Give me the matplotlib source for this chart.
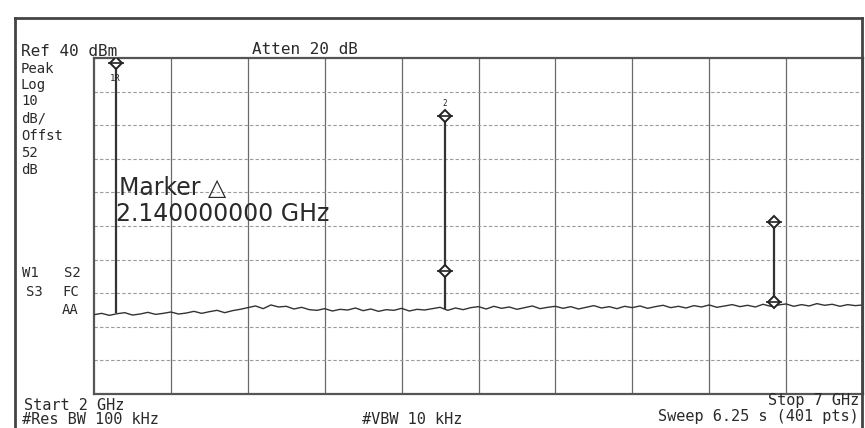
import numpy as np
import matplotlib
matplotlib.use('Agg')
import matplotlib.pyplot as plt
from matplotlib.lines import Line2D

# Sweep settings
f_start = 2.0      # GHz
f_stop = 7.0       # GHz
ref_level = 40     # dBm
db_per_div = 10

# Noise floor, one reading every 50 MHz from 2 to 7 GHz (dBm)
noise_db = [
    -36.4, -36.0, -36.6, -36.1, -35.8, -36.5, -36.2, -35.7, -36.3, -36.0,
    -35.6, -36.2, -35.9, -35.4, -36.0, -35.5, -35.1, -35.8, -35.2, -34.8,
    -34.3, -33.8, -34.6, -33.5, -34.1, -33.9, -34.7, -34.2, -34.9, -35.1,
    -34.6, -35.3, -34.8, -35.0, -34.4, -35.2, -34.7, -35.4, -34.9, -35.1,
    -34.5, -35.3, -34.8, -35.0, -34.6, -34.2, -35.1, -34.4, -34.9, -34.3,
    -34.0, -34.7, -33.9, -34.5, -34.1, -34.8, -34.3, -33.8, -34.6, -34.2,
    -33.9, -34.5, -34.0, -34.7, -34.2, -33.7, -34.4, -34.0, -34.6, -33.9,
    -34.3, -33.8, -34.5, -34.0, -33.6, -34.3, -33.9, -34.4, -33.7, -34.1,
    -33.5, -34.2, -33.8, -33.4, -34.0, -33.6, -34.1, -33.3, -33.9, -33.5,
    -33.2, -33.9, -33.4, -33.8, -33.1, -33.6, -33.3, -33.9, -33.4, -33.7,
    -33.5,
]
noise_f = np.linspace(f_start, f_stop, len(noise_db))

# Fundamental and harmonics
peak_f = [2.14, 4.28, 6.42]
peak_db = [39.0, 22.7, -8.8]
peak_base = [-36.0, -34.8, -33.6]

# Markers
marker_f = [2.14, 4.28, 4.28, 6.42, 6.42]
marker_db = [38.5, 22.7, -23.4, -8.8, -32.6]

W, H = 865, 428
fig = plt.figure(figsize=(W / 100, H / 100), dpi=100)
fig.patch.set_facecolor('white')

def px(x, y):
    return x / W, 1 - y / H

x0, y0 = 94, 58
x1, y1 = 863, 394
ax = fig.add_axes([x0 / W, 1 - y1 / H, (x1 - x0) / W, (y1 - y0) / H])
ax.set_xlim(f_start, f_stop)
ax.set_ylim(ref_level - 10 * db_per_div, ref_level)

# graticule
for f in np.linspace(f_start, f_stop, 11)[1:-1]:
    ax.axvline(f, color='#6a6a6a', lw=0.9, zorder=1)
for lv in np.arange(ref_level - 10 * db_per_div, ref_level, db_per_div)[1:]:
    ax.axhline(lv, color='#9a9a9a', lw=0.8, ls=(0, (3, 2)), zorder=1)
for s in ax.spines.values():
    s.set_color('#555555')
    s.set_linewidth(1.6)
ax.set_xticks([])
ax.set_yticks([])

# trace
ax.plot(noise_f, noise_db, color='#333333', lw=1.0, zorder=3)
ax.vlines(peak_f, peak_base, peak_db, color='#333333', lw=1.6, zorder=3)

ax.plot(marker_f, marker_db, 'D', ms=6, mfc='white', mec='#222222',
        mew=1.4, zorder=4)
ax.plot(marker_f, marker_db, '_', ms=11, mec='#222222', mew=1.2, zorder=4)
ax.annotate('1R', (peak_f[0], marker_db[0]), xytext=(0, -11),
            textcoords='offset points', ha='center', va='center',
            fontsize=6.5, family='DejaVu Sans Mono', color='#222222')
ax.annotate('2', (peak_f[1], marker_db[1]), xytext=(0, 9),
            textcoords='offset points', ha='center', va='center',
            fontsize=5.5, family='DejaVu Sans Mono', color='#222222')

# outer frame
for xs, ys in [((15, 15), (18, 428)), ((15, 862), (18, 18)), ((862, 862), (18, 428))]:
    fig.add_artist(Line2D([x / W for x in xs], [1 - y / H for y in ys],
                          color='#444444', lw=2.0))

mono = 'DejaVu Sans Mono'
tc = '#2a2a2a'

def put(x, y, s, size, ha='left'):
    fig.text(*px(x, y), s, fontsize=size, family=mono, color=tc,
             ha=ha, va='center')

put(21, 51, 'Ref 40 dBm', 11.5)
put(252, 50, 'Atten 20 dB', 11.5)

left_col = ['Peak', 'Log', '10', 'dB/', 'Offst', '52', 'dB']
left_y = [69, 85, 101, 118, 136, 153, 170]
for s, yy in zip(left_col, left_y):
    put(21, yy, s, 10)

put(22, 273, 'W1', 10)
put(64, 273, 'S2', 10)
put(26, 292, 'S3', 10)
put(62, 292, 'FC', 10)
put(62, 310, 'AA', 10)

put(24, 405, 'Start 2 GHz', 11)
put(22, 420, '#Res BW 100 kHz', 11)
put(362, 419, '#VBW 10 kHz', 11)
put(859, 400, 'Stop 7 GHz', 11, ha='right')
put(859, 416, 'Sweep 6.25 s (401 pts)', 11, ha='right')

fig.text(*px(119, 188), 'Marker \u25b3', fontsize=17, family='DejaVu Sans',
         color=tc, ha='left', va='center')
fig.text(*px(116, 214), '2.140000000 GHz', fontsize=17, family='DejaVu Sans',
         color=tc, ha='left', va='center')

fig.savefig('out.png', dpi=100, facecolor='white')
